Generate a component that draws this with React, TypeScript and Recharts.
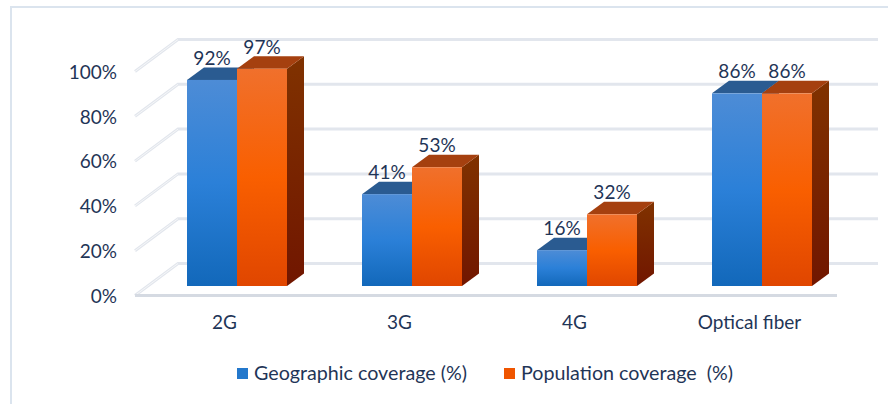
import { BarChart, Bar, XAxis, YAxis, Legend, LabelList, CartesianGrid } from 'recharts';

const categories = ['2G', '3G', '4G', 'Optical fiber'];
const geographic = [92, 41, 16, 86];
const population = [97, 53, 32, 86];
const yTicks = [0, 20, 40, 60, 80, 100];
const seriesNames = ['Geographic coverage (%)', 'Population coverage  (%)'];

const chartData = categories.map((name, i) => ({
  name,
  geographic: geographic[i],
  population: population[i],
}));

const textColor = '#1f3557';
const fontFamily = 'Lato, "Open Sans", sans-serif';

// the chart is a fake 3D one, so bars get a cap and a side face
const DEPTH_X = 17;
const DEPTH_Y = 12.5;

function Bar3D({ x, y, width, height, front, cap, side }: any) {
  const bottom = y + height;
  const right = x + width;
  return (
    <g>
      <path
        d={`M${right},${y} L${right + DEPTH_X},${y - DEPTH_Y} L${right + DEPTH_X},${bottom - DEPTH_Y} L${right},${bottom} Z`}
        fill={side}
      />
      <path
        d={`M${x},${y} L${x + DEPTH_X},${y - DEPTH_Y} L${right + DEPTH_X},${y - DEPTH_Y} L${right},${y} Z`}
        fill={cap}
      />
      <rect x={x} y={y} width={width} height={height} fill={front} />
    </g>
  );
}

function WallLine({ x1, y1, x2, y2, index }: any) {
  const frontX = x1 - 14;
  const frontY = y1 + 9.5;
  const backX = x1 + 29;
  const backY = y1 - 22.5;
  const endX = x2 + 29;
  const isFloor = Math.abs(y1 - 286) < 2;
  return (
    <g key={index} fill="none">
      <path d={`M${frontX},${frontY} L${backX},${backY} L${endX},${y2 - 22.5}`} stroke="#e2e6ed" strokeWidth={3} />
      <path d={`M${frontX},${frontY} L${backX},${backY}`} stroke="#f6f7f8" strokeWidth={1} />
      {isFloor && <path d={`M${frontX},${frontY} L${x2 - 12},${frontY}`} stroke="#d5dae2" strokeWidth={3} />}
    </g>
  );
}

function LegendRow({ payload }: any) {
  const lefts = [237, 504];
  return (
    <div style={{ position: 'relative', height: 24, fontFamily, fontSize: 19.7, color: textColor }}>
      {(payload ?? []).map((item: any, i: number) => (
        <div key={item.value} style={{ position: 'absolute', left: lefts[i], top: 0, whiteSpace: 'pre', lineHeight: '24px' }}>
          <span
            style={{
              position: 'absolute',
              left: 0,
              top: 7,
              width: 11,
              height: 11,
              background: i === 0 ? '#2378cc' : '#ef5500',
            }}
          />
          <span style={{ marginLeft: 17 }}>{item.value}</span>
        </div>
      ))}
    </div>
  );
}

export default function App() {
  return (
    <div style={{ position: 'absolute', left: 0, top: 0, width: 888, height: 404, overflow: 'hidden', background: '#fff' }}>
      <div
        style={{
          position: 'absolute',
          left: 10,
          top: 6,
          width: 900,
          height: 420,
          border: '2px solid #dbe4ee',
          boxSizing: 'border-box',
        }}
      />
      <div style={{ position: 'absolute', left: 0, top: 0 }}>
        <BarChart
          width={888}
          height={404}
          data={chartData}
          barSize={50}
          barGap={0}
          margin={{ top: 62, right: 39, bottom: 88, left: 49 }}
        >
          <defs>
            <linearGradient id="blueFront" x1="0" y1="0" x2="0" y2="1">
              <stop offset="0%" stopColor="#4d8cd6" />
              <stop offset="50%" stopColor="#2b80d8" />
              <stop offset="100%" stopColor="#1268ba" />
            </linearGradient>
            <linearGradient id="orangeFront" x1="0" y1="0" x2="0" y2="1">
              <stop offset="0%" stopColor="#f0702c" />
              <stop offset="50%" stopColor="#f95f00" />
              <stop offset="100%" stopColor="#e04600" />
            </linearGradient>
            <linearGradient id="orangeSide" x1="0" y1="0" x2="0" y2="1">
              <stop offset="0%" stopColor="#803200" />
              <stop offset="100%" stopColor="#711600" />
            </linearGradient>
          </defs>
          <CartesianGrid
            vertical={false}
            horizontalValues={yTicks}
            horizontal={(p: any) => <WallLine {...p} />}
          />
          <XAxis
            dataKey="name"
            axisLine={false}
            tickLine={false}
            interval={0}
            height={30}
            tickSize={0}
            tickMargin={30}
            tick={{ fill: textColor, fontSize: 19, fontFamily, dx: -12 }}
          />
          <YAxis
            domain={[0, 100]}
            ticks={yTicks}
            width={100}
            axisLine={false}
            tickLine={false}
            tickSize={0}
            tickMargin={32}
            tickFormatter={(v: number) => `${v}%`}
            tick={{ fill: textColor, fontSize: 19, fontFamily, dy: 10 }}
          />
          <Legend
            layout="horizontal"
            verticalAlign="middle"
            align="center"
            wrapperStyle={{ position: 'absolute', left: 0, top: 361, width: 888 }}
            content={(props: any) => <LegendRow payload={props.payload} />}
          />
          <Bar
            dataKey="geographic"
            name={seriesNames[0]}
            fill="#2378cc"
            isAnimationActive={false}
            shape={(p: any) => <Bar3D {...p} front="url(#blueFront)" cap="#2a5b91" side="#1d4a7c" />}
          >
            <LabelList
              dataKey="geographic"
              position="top"
              offset={15}
              formatter={(v: any) => `${v}%`}
              fill={textColor}
              fontSize={19}
              fontFamily={fontFamily}
            />
          </Bar>
          <Bar
            dataKey="population"
            name={seriesNames[1]}
            fill="#ef5500"
            isAnimationActive={false}
            shape={(p: any) => <Bar3D {...p} front="url(#orangeFront)" cap="#a5400f" side="url(#orangeSide)" />}
          >
            <LabelList
              dataKey="population"
              position="top"
              offset={15}
              formatter={(v: any) => `${v}%`}
              fill={textColor}
              fontSize={19}
              fontFamily={fontFamily}
            />
          </Bar>
        </BarChart>
      </div>
    </div>
  );
}
